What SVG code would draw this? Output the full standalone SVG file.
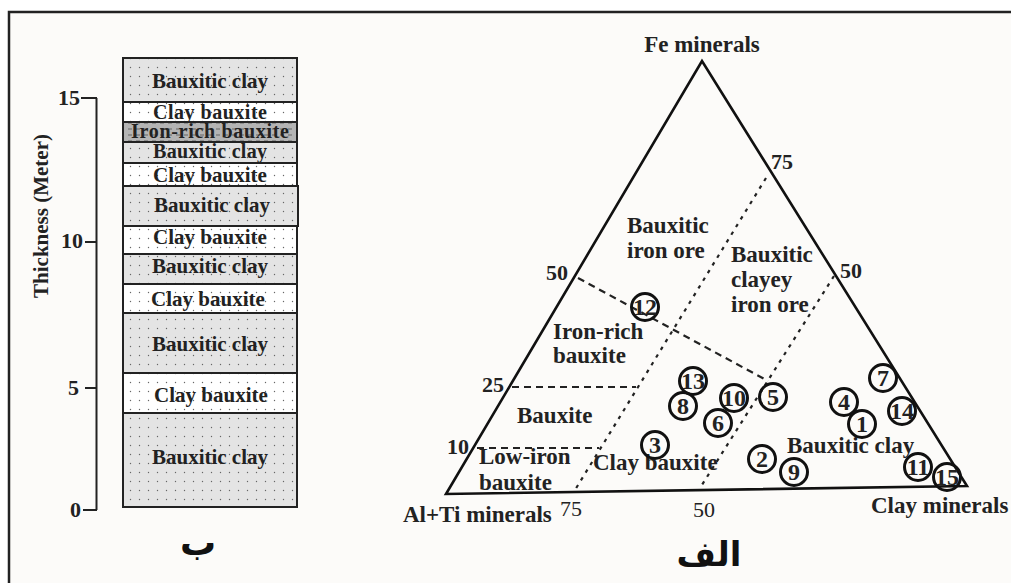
<svg xmlns="http://www.w3.org/2000/svg" width="1011" height="583" viewBox="0 0 1011 583">
<defs>
<style>
.t{font-family:"Liberation Serif","Times New Roman",serif;font-weight:bold;fill:#222;}
.col{font-size:21px;text-anchor:middle;}
.cs{font-size:20px;text-anchor:middle;}
.lab{font-size:23px;}
.ax{font-size:22px;}
.reg{font-family:"Liberation Serif","Times New Roman",serif;font-weight:normal;fill:#222;font-size:22px;}
.num{font-size:24px;text-anchor:middle;}
.layer{stroke:#222;stroke-width:2;}
.smp{fill:none;stroke:#111;stroke-width:3;}
.dash{fill:none;stroke:#222;stroke-width:2.2;stroke-dasharray:7 5;}
.dot{fill:none;stroke:#222;stroke-width:2.2;stroke-dasharray:3.5 5.5;}
.ar{font-family:"DejaVu Sans",sans-serif;font-weight:bold;fill:#111;text-anchor:middle;}
</style>
<pattern id="pGray" width="9" height="9" patternUnits="userSpaceOnUse">
<rect width="9" height="9" fill="#e4e4e4"/>
<circle cx="4.5" cy="4.5" r="0.7" fill="#666"/>
</pattern>
<pattern id="pWhite" width="9" height="9" patternUnits="userSpaceOnUse">
<rect width="9" height="9" fill="#ffffff"/>
<circle cx="4.5" cy="4.5" r="0.7" fill="#666"/>
</pattern>
<pattern id="pDark" width="8" height="6" patternUnits="userSpaceOnUse">
<rect width="8" height="6" fill="#b4b4b4"/>
<line x1="0" y1="3" x2="4" y2="3" stroke="#666" stroke-width="1"/>
</pattern>
</defs>
<rect width="1011" height="583" fill="#ffffff"/>
<rect x="9" y="12" width="1010" height="580" fill="#fcfbf9" stroke="#222" stroke-width="2.5"/>

<g id="scale">
<line x1="96.5" y1="98" x2="96.5" y2="510" stroke="#222" stroke-width="2"/>
<line x1="81" y1="98" x2="97" y2="98" stroke="#222" stroke-width="2"/>
<line x1="85" y1="242" x2="97" y2="242" stroke="#222" stroke-width="2"/>
<line x1="85" y1="388" x2="97" y2="388" stroke="#222" stroke-width="2"/>
<line x1="83" y1="510" x2="97" y2="510" stroke="#222" stroke-width="2"/>
<text class="t ax" x="80" y="105" text-anchor="end">15</text>
<text class="t ax" x="83" y="248" text-anchor="end">10</text>
<text class="t ax" x="79" y="395" text-anchor="end">5</text>
<text class="t ax" x="81" y="517" text-anchor="end">0</text>
<text class="t" font-size="21" text-anchor="middle" transform="translate(48,216) rotate(-90)">Thickness (Meter)</text>
</g>

<g id="column">
<g id="L12"><rect class="layer" x="123" y="58" width="174" height="44" fill="url(#pGray)"/><text class="t col" x="210" y="88">Bauxitic clay</text></g>
<g id="L11"><rect class="layer" x="123" y="102" width="174" height="20" fill="url(#pWhite)"/><text class="t cs" x="210" y="119" textLength="114">Clay bauxite</text></g>
<g id="L10"><rect class="layer" x="123" y="122" width="174" height="20" fill="url(#pDark)"/><text class="t cs" x="210" y="138" textLength="158">Iron-rich bauxite</text></g>
<g id="L9"><rect class="layer" x="123" y="142" width="174" height="21" fill="url(#pGray)"/><text class="t cs" x="210" y="158" textLength="114">Bauxitic clay</text></g>
<g id="L8"><rect class="layer" x="123" y="163" width="174" height="23" fill="url(#pWhite)"/><text class="t col" x="210" y="182">Clay bauxite</text></g>
<g id="L7"><rect class="layer" x="123" y="186" width="175" height="40" fill="url(#pGray)"/><text class="t col" x="212" y="212">Bauxitic clay</text></g>
<g id="L6"><rect class="layer" x="123" y="226" width="174" height="28" fill="url(#pWhite)"/><text class="t col" x="210" y="244">Clay bauxite</text></g>
<g id="L5"><rect class="layer" x="123" y="254" width="174" height="30" fill="url(#pGray)"/><text class="t col" x="210" y="273">Bauxitic clay</text></g>
<g id="L4"><rect class="layer" x="123" y="284" width="174" height="29" fill="url(#pWhite)"/><text class="t col" x="208" y="306">Clay bauxite</text></g>
<g id="L3"><rect class="layer" x="123" y="313" width="174" height="60" fill="url(#pGray)"/><text class="t col" x="210" y="351">Bauxitic clay</text></g>
<g id="L2"><rect class="layer" x="123" y="373" width="174" height="40" fill="url(#pWhite)"/><text class="t col" x="211" y="402">Clay bauxite</text></g>
<g id="L1"><rect class="layer" x="123" y="413" width="174" height="94" fill="url(#pGray)"/><text class="t col" x="210" y="464">Bauxitic clay</text></g>
<text class="ar" x="198" y="555" font-size="36">ب</text>
</g>

<g id="triangle">
<path d="M446,494 L702,61 L967,486 Z" fill="none" stroke="#111" stroke-width="2.6" stroke-linejoin="miter"/>
<text class="t lab" x="702" y="52" text-anchor="middle" font-size="23.5">Fe minerals</text>
<text class="t lab" x="403" y="522">Al+Ti minerals</text>
<text class="t lab" x="871" y="513">Clay minerals</text>
<text class="reg" x="560" y="516">75</text>
<text class="reg" x="693" y="517">50</text>
<text class="t ax" x="771" y="169">75</text>
<text class="t ax" x="546" y="280">50</text>
<text class="t ax" x="840" y="278">50</text>
<text class="t ax" x="482" y="392">25</text>
<text class="t ax" x="447" y="454">10</text>
</g>

<g id="connectors">
<line class="dash" x1="578" y1="278" x2="768" y2="381"/>
<line class="dash" x1="512" y1="387" x2="636" y2="387"/>
<line class="dash" x1="477" y1="448" x2="599" y2="448"/>
<line class="dot" x1="766" y1="178" x2="575" y2="490"/>
<line class="dot" x1="834" y1="276" x2="700" y2="488"/>
</g>

<g id="fields">
<g id="f-bio"><text class="t lab" x="627" y="233">Bauxitic</text><text class="t lab" x="627" y="258">iron ore</text></g>
<g id="f-bcio"><text class="t lab" x="731" y="262">Bauxitic</text><text class="t lab" x="731" y="287">clayey</text><text class="t lab" x="731" y="312">iron ore</text></g>
<g id="f-irb"><text class="t lab" x="553" y="339">Iron-rich</text><text class="t lab" x="553" y="363">bauxite</text></g>
<g id="f-b"><text class="t lab" x="517" y="423">Bauxite</text></g>
<g id="f-lib"><text class="t lab" x="479" y="464">Low-iron</text><text class="t lab" x="479" y="490">bauxite</text></g>
<g id="f-cb"><text class="t lab" x="593" y="470">Clay bauxite</text></g>
<g id="f-bc"><text class="t lab" x="787" y="453">Bauxitic clay</text></g>
</g>

<g id="samples">
<g id="s12"><circle class="smp" cx="645" cy="307" r="13.5"/><text class="t num" x="645" y="315">12</text></g>
<g id="s13"><circle class="smp" cx="693" cy="381" r="13.5"/><text class="t num" x="693" y="389">13</text></g>
<g id="s8"><circle class="smp" cx="683" cy="406" r="13.5"/><text class="t num" x="683" y="414">8</text></g>
<g id="s10"><circle class="smp" cx="734" cy="398" r="13.5"/><text class="t num" x="734" y="406">10</text></g>
<g id="s6"><circle class="smp" cx="718" cy="423" r="13.5"/><text class="t num" x="718" y="431">6</text></g>
<g id="s5"><circle class="smp" cx="773" cy="397" r="13.5"/><text class="t num" x="773" y="405">5</text></g>
<g id="s3"><circle class="smp" cx="655" cy="445" r="13.5"/><text class="t num" x="655" y="453">3</text></g>
<g id="s2"><circle class="smp" cx="762" cy="459" r="13.5"/><text class="t num" x="762" y="467">2</text></g>
<g id="s9"><circle class="smp" cx="794" cy="472" r="13.5"/><text class="t num" x="794" y="480">9</text></g>
<g id="s7"><circle class="smp" cx="883" cy="378" r="13.5"/><text class="t num" x="883" y="386">7</text></g>
<g id="s4"><circle class="smp" cx="844" cy="402" r="13.5"/><text class="t num" x="844" y="410">4</text></g>
<g id="s1"><circle class="smp" cx="862" cy="424" r="13.5"/><text class="t num" x="862" y="432">1</text></g>
<g id="s14"><circle class="smp" cx="902" cy="411" r="13.5"/><text class="t num" x="902" y="419">14</text></g>
<g id="s11"><circle class="smp" cx="918" cy="467" r="13.5"/><text class="t num" x="918" y="475">11</text></g>
<g id="s15"><circle class="smp" cx="947" cy="477" r="13.5"/><text class="t num" x="947" y="485">15</text></g>
</g>

<text class="ar" x="709" y="566" font-size="34">الف</text>
</svg>
